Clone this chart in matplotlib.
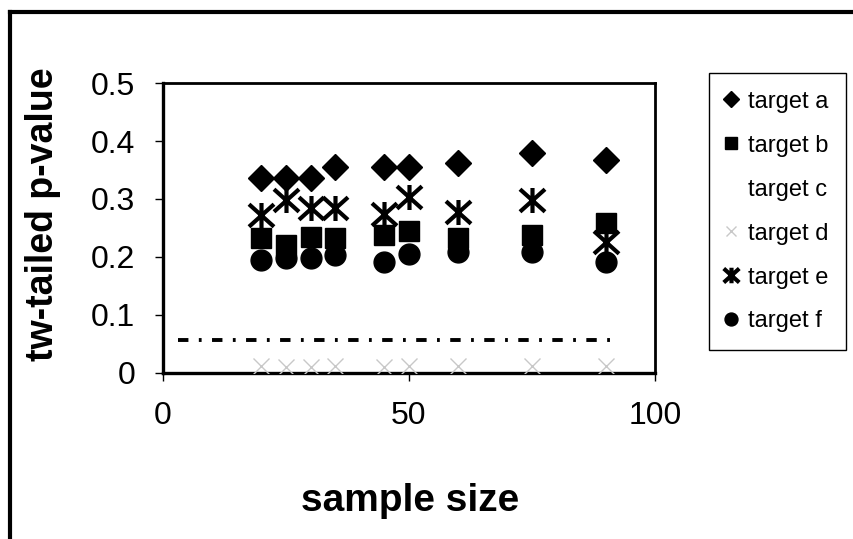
import matplotlib
matplotlib.use("Agg")
import matplotlib.pyplot as plt
from matplotlib.lines import Line2D
from matplotlib.path import Path

plt.rcParams["font.family"] = ["Liberation Sans", "DejaVu Sans"]
plt.rcParams["lines.scale_dashes"] = False

# sample sizes on the x axis
sample_size = [20, 25, 30, 35, 45, 50, 60, 75, 90]

# two-tailed p-values per target
target_a = [0.337, 0.337, 0.337, 0.355, 0.355, 0.355, 0.362, 0.379, 0.367]
target_b = [0.232, 0.221, 0.235, 0.232, 0.238, 0.244, 0.232, 0.238, 0.258]
target_c = [0.300, 0.300, 0.300, 0.300, 0.300, 0.300, 0.300, 0.300, 0.300]
target_d = [0.012, 0.010, 0.010, 0.012, 0.010, 0.012, 0.012, 0.012, 0.012]
target_e = [0.272, 0.298, 0.284, 0.284, 0.274, 0.304, 0.278, 0.298, 0.226]
target_f = [0.195, 0.198, 0.198, 0.203, 0.192, 0.206, 0.209, 0.209, 0.192]

# significance reference line
sig_level = 0.057
sig_span = [3, 93]

x_ticks = [0, 50, 100]
y_ticks = [0, 0.1, 0.2, 0.3, 0.4, 0.5]

# Excel style asterisk: an X with a vertical bar through it
star = Path([(0, -1), (0, 1), (-1, -0.9), (1, 0.9), (-1, 0.9), (1, -0.9)],
            [Path.MOVETO, Path.LINETO] * 3)

fig = plt.figure(figsize=(8.54, 5.39), dpi=100)
ax = fig.add_axes([0.1909, 0.308, 0.576, 0.538])

ax.plot(sample_size, target_c, ls="none", marker="o", ms=12,
        color="white", zorder=1, label="target c")
ax.plot(sig_span, [sig_level, sig_level], color="black", lw=2.8,
        ls=(0, (7.5, 7.5, 2, 7.5)), zorder=2)
ax.plot(sample_size, target_d, ls="none", marker="x", ms=11, mew=1,
        color="#c8c8c8", zorder=3, label="target d")
ax.plot(sample_size, target_e, ls="none", marker=star, ms=18, mew=3,
        color="black", zorder=4, label="target e")
ax.plot(sample_size, target_f, ls="none", marker="o", ms=15,
        color="black", zorder=5, label="target f")
ax.plot(sample_size, target_b, ls="none", marker="s", ms=15,
        color="black", zorder=6, label="target b")
ax.plot(sample_size, target_a, ls="none", marker="D", ms=13.5,
        color="black", zorder=7, label="target a")

ax.set_xlim(0, 100)
ax.set_ylim(0, 0.5)
ax.set_xticks(x_ticks)
ax.set_xticklabels([str(t) for t in x_ticks])
ax.set_yticks(y_ticks)
ax.set_yticklabels(["0" if t == 0 else f"{t:.1f}" for t in y_ticks])
ax.tick_params(axis="both", direction="out", length=6, width=1,
               labelsize=23, color="black")
ax.tick_params(axis="y", pad=14)
ax.tick_params(axis="x", pad=14)

for side in ["left", "bottom", "top", "right"]:
    ax.spines[side].set_linewidth(2.0)
ax.spines["left"].set_linewidth(2.4)
ax.spines["bottom"].set_linewidth(2.4)

ax.set_xlabel("sample size", fontsize=28, fontweight="bold")
ax.xaxis.set_label_coords(0.502, -0.379)
ax.set_ylabel("tw-tailed p-value", fontsize=27, fontweight="bold")
ax.yaxis.set_label_coords(-0.244, 0.548)
ax.yaxis.label.set_va("center")

# legend in the order of the original chart
handles, labels = ax.get_legend_handles_labels()
order = ["target a", "target b", "target c", "target d", "target e", "target f"]
lookup = dict(zip(labels, handles))
leg = fig.legend([lookup[k] for k in order], order,
                 loc="upper left", bbox_to_anchor=(0.830, 0.8646),
                 bbox_transform=fig.transFigure, borderaxespad=0,
                 fontsize=17, labelspacing=0.93, handletextpad=0.5,
                 handlelength=0.4, borderpad=0.75, markerscale=0.62,
                 fancybox=False, framealpha=1, edgecolor="black")
leg.get_frame().set_linewidth(1.0)

# outer chart border (cropped on the right and bottom)
fig.add_artist(Line2D([0.0117, 1.0], [0.978, 0.978], color="black", lw=3,
                      transform=fig.transFigure))
fig.add_artist(Line2D([0.0117, 0.0117], [0.0, 0.978], color="black", lw=3,
                      transform=fig.transFigure))

fig.savefig("out.png", dpi=100, facecolor="white")
